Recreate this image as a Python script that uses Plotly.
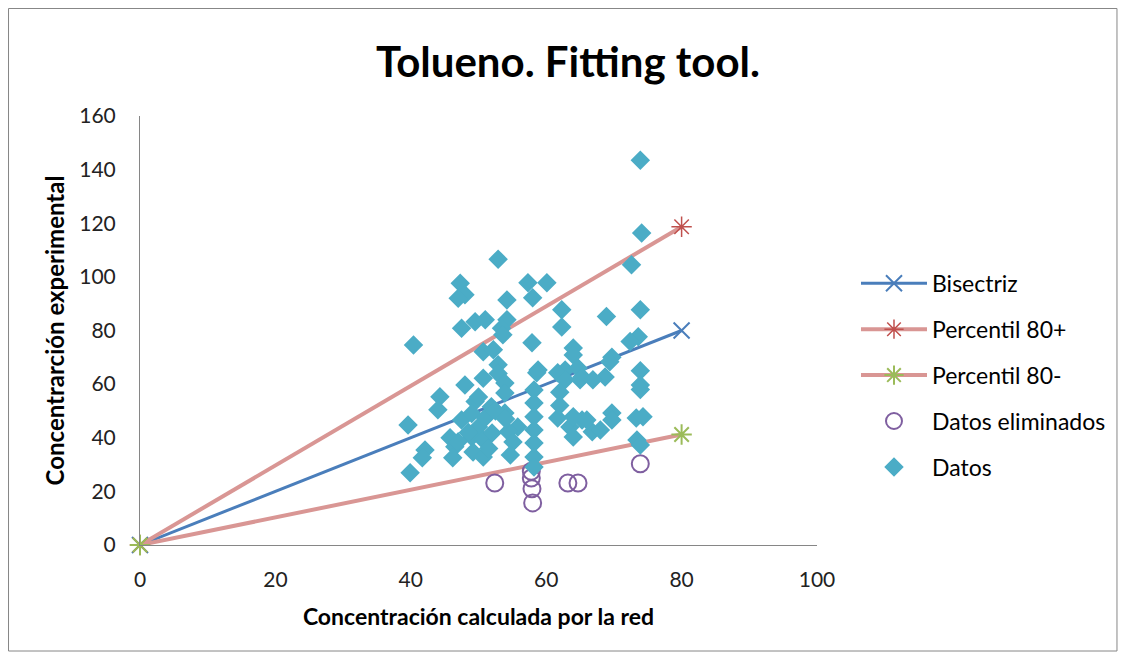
import plotly.graph_objects as go

# Datos (concentración calculada por la red, concentración experimental)
datos_x = [73.9, 74.1, 72.6, 52.9, 47.3, 48.0, 47.0, 54.2, 57.3, 60.1, 58.0,
           62.3, 73.9, 68.9, 62.3, 47.5, 49.5, 51.0, 54.2, 53.4, 53.6,
           73.6, 72.4, 57.9, 40.4, 64.0, 64.0, 50.7, 52.2, 69.7, 69.4,
           52.9, 58.8, 62.8, 64.7, 73.9, 50.7, 52.9, 58.6, 61.7, 65.3, 68.7,
           62.8, 65.0, 66.9, 73.9, 73.9, 53.9, 48.0, 58.2, 53.9,
           44.3, 49.5, 58.2, 50.0, 44.0, 51.9, 53.9,
           58.2, 61.7, 63.5, 65.3, 66.8, 64.0, 66.0,
           69.7, 69.7, 73.3, 74.3, 47.5, 39.6, 55.8, 50.0, 49.0, 50.7, 52.0,
           54.4, 55.1, 45.8, 46.5, 58.2, 58.2, 64.0, 68.0, 73.4, 73.9,
           42.1, 41.7, 46.2, 49.2, 50.7, 54.7, 58.2, 39.9, 58.2,
           49.0, 51.0, 52.5, 54.0, 62.0, 62.0, 48.5, 51.5, 47.0]
datos_y = [143.5, 116.4, 104.5, 106.6, 97.6, 93.3, 92.0, 91.4, 97.8, 97.8, 92.2,
           87.7, 87.7, 85.2, 81.3, 80.8, 83.3, 84.0, 84.0, 80.8, 78.4,
           77.7, 75.9, 75.4, 74.6, 73.5, 70.9, 72.1, 72.8, 70.0, 68.3,
           67.2, 65.3, 65.3, 66.0, 65.0, 62.2, 64.0, 64.2, 64.2, 62.7, 62.7,
           61.6, 61.6, 61.6, 59.7, 58.0, 60.4, 59.7, 57.8, 56.7,
           55.3, 53.5, 53.0, 55.2, 50.4, 51.6, 49.2,
           47.8, 47.4, 44.0, 46.6, 42.2, 47.8, 46.6,
           49.2, 46.6, 47.4, 47.8, 46.6, 44.8, 44.0, 44.0, 40.3, 39.2, 41.8,
           42.2, 38.4, 40.0, 36.6, 42.9, 38.0, 40.3, 42.9, 39.2, 37.3,
           35.4, 32.5, 32.5, 34.7, 32.8, 33.6, 32.8, 26.9, 29.1,
           49.0, 47.5, 50.0, 47.0, 57.0, 52.0, 42.0, 36.0, 38.5]

# Datos eliminados
elim_x = [52.4, 57.8, 57.8, 57.9, 58.0, 63.2, 64.7, 73.9]
elim_y = [23.1, 27.5, 25.0, 21.0, 15.7, 23.1, 23.1, 30.3]

# Rectas
bis_x = [0, 80]
bis_y = [0, 80]
p80_mas_x = [0, 80]
p80_mas_y = [0, 118.7]
p80_menos_x = [0, 80]
p80_menos_y = [0, 41.2]

font = "Lato, 'Liberation Sans', sans-serif"

fig = go.Figure()
fig.add_trace(go.Scatter(x=bis_x, y=bis_y, name="Bisectriz", mode="lines+markers",
                         legendgroup="a", cliponaxis=False,
                         line=dict(color="#4a7ebb", width=3),
                         marker=dict(symbol="x-thin-open", size=16, color="#4a7ebb",
                                     line=dict(width=2, color="#4a7ebb"))))
fig.add_trace(go.Scatter(x=p80_mas_x, y=p80_mas_y, name="Percentil 80+", mode="lines+markers",
                         legendgroup="b", cliponaxis=False,
                         line=dict(color="#d99694", width=4),
                         marker=dict(symbol="asterisk-open", size=17, color="#c0504d",
                                     line=dict(width=1.5, color="#c0504d"))))
fig.add_trace(go.Scatter(x=p80_menos_x, y=p80_menos_y, name="Percentil 80-", mode="lines+markers",
                         legendgroup="c", cliponaxis=False,
                         line=dict(color="#d99694", width=4),
                         marker=dict(symbol="asterisk-open", size=17, color="#9bbb59",
                                     line=dict(width=2, color="#9bbb59"))))
fig.add_trace(go.Scatter(x=elim_x, y=elim_y, name="Datos eliminados", mode="markers",
                         legendgroup="d",
                         marker=dict(symbol="circle-open", size=17, color="#7f5fa0",
                                     line=dict(width=2, color="#7f5fa0"))))
fig.add_trace(go.Scatter(x=datos_x, y=datos_y, name="Datos", mode="markers",
                         legendgroup="e",
                         marker=dict(symbol="diamond", size=15, color="#4bacc6",
                                     line=dict(width=0))))

fig.update_layout(
    width=1129, height=659,
    margin=dict(l=132, r=320, t=108, b=122),
    paper_bgcolor="white", plot_bgcolor="white",
    font=dict(family=font, size=21, color="#222222"),
    title=dict(text="<b>Tolueno. Fitting tool.</b>", x=0.496, xanchor="center",
               y=0.918, yanchor="middle", font=dict(size=42, color="black")),
    legend=dict(x=1.0576, y=0.66, xanchor="left", yanchor="top",
                tracegroupgap=13, font=dict(size=23, color="black"),
                itemwidth=66),
    showlegend=True,
)
fig.update_xaxes(range=[0, 100], dtick=20, showgrid=False, zeroline=False,
                 showline=True, linecolor="#868686", linewidth=1,
                 ticks="", ticklabelstandoff=16,
                 title=dict(text="<b>Concentración calculada por la red</b>",
                            font=dict(size=23, color="black"), standoff=18))
fig.update_yaxes(range=[0, 160], dtick=20, showgrid=False, zeroline=False,
                 showline=True, linecolor="#868686", linewidth=1,
                 ticks="", ticklabelstandoff=19,
                 title=dict(text="<b>Concentrarción experimental</b>",
                            font=dict(size=24, color="black"), standoff=7))

# marco exterior del gráfico
fig.add_shape(type="rect", xref="paper", yref="paper",
              x0=-0.1942, x1=1.4431, y0=-0.2471, y1=1.2506,
              line=dict(color="#868686", width=1), fillcolor="rgba(0,0,0,0)")

fig.write_html("out.html")
